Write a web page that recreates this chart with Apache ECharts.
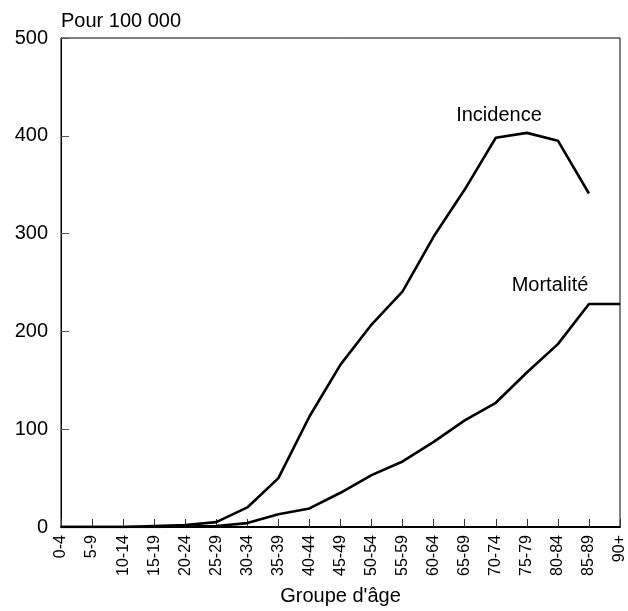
<!DOCTYPE html>
<html>
<head>
<meta charset="utf-8">
<script src="https://cdn.jsdelivr.net/npm/echarts@6/dist/echarts.min.js"></script>
<style>html,body{margin:0;padding:0;background:#fff}#c{width:628px;height:611px}</style>
</head>
<body>
<div id="c"></div>
<script>
var categories = ['0-4','5-9','10-14','15-19','20-24','25-29','30-34','35-39','40-44','45-49','50-54','55-59','60-64','65-69','70-74','75-79','80-84','85-89','90+'];
var incidence = [0,0,0,1,2,5,20,50,113,166,207,241,297,345,398,403,395,341,null];
var mortalite = [0,0,0,0,0.5,1,4,13,19,35,53,67,87,109,127,158,187,228,228];
var yTicks = [0,100,200,300,400,500];

var font = '"Liberation Sans", Arial, sans-serif';
var chart = echarts.init(document.getElementById('c'), null, {renderer:'canvas'});
chart.setOption({
  animation:false,
  backgroundColor:'#fff',
  grid:{left:61,right:6,top:38,bottom:80,show:true,borderColor:'#000',borderWidth:1,backgroundColor:'transparent'},
  xAxis:{
    type:'category', data:categories, boundaryGap:false,
    name:"Groupe d'âge", nameLocation:'middle', nameGap:59,
    nameTextStyle:{fontFamily:font,fontSize:20,color:'#000'},
    axisLine:{show:true,lineStyle:{color:'#000',width:2}},
    axisTick:{show:true,inside:true,length:8,interval:0,lineStyle:{color:'#333',width:1}},
    axisLabel:{interval:0,rotate:90,margin:8,fontFamily:font,fontSize:16,color:'#000'},
    splitLine:{show:false}
  },
  yAxis:{
    type:'value', min:yTicks[0], max:yTicks[yTicks.length-1], interval:100,
    axisLine:{show:true,lineStyle:{color:'#000',width:1}},
    axisTick:{show:true,inside:true,length:8,lineStyle:{color:'#555',width:1}},
    axisLabel:{margin:13,fontFamily:font,fontSize:20,color:'#000'},
    splitLine:{show:false}
  },
  graphic:[
    {type:'text',left:61,top:11,style:{text:'Pour 100 000',font:'20px '+font,fill:'#000'}},
    {type:'text',x:499,y:115,style:{text:'Incidence',font:'20px '+font,fill:'#000',align:'center',verticalAlign:'middle'}},
    {type:'text',x:550,y:285,style:{text:'Mortalité',font:'20px '+font,fill:'#000',align:'center',verticalAlign:'middle'}}
  ],
  series:[
    {name:'Incidence',type:'line',data:incidence,symbol:'none',lineStyle:{color:'#000',width:2.6},itemStyle:{color:'#000'},connectNulls:false},
    {name:'Mortalité',type:'line',data:mortalite,symbol:'none',lineStyle:{color:'#000',width:2.6},itemStyle:{color:'#000'}}
  ]
});
</script>
</body>
</html>
